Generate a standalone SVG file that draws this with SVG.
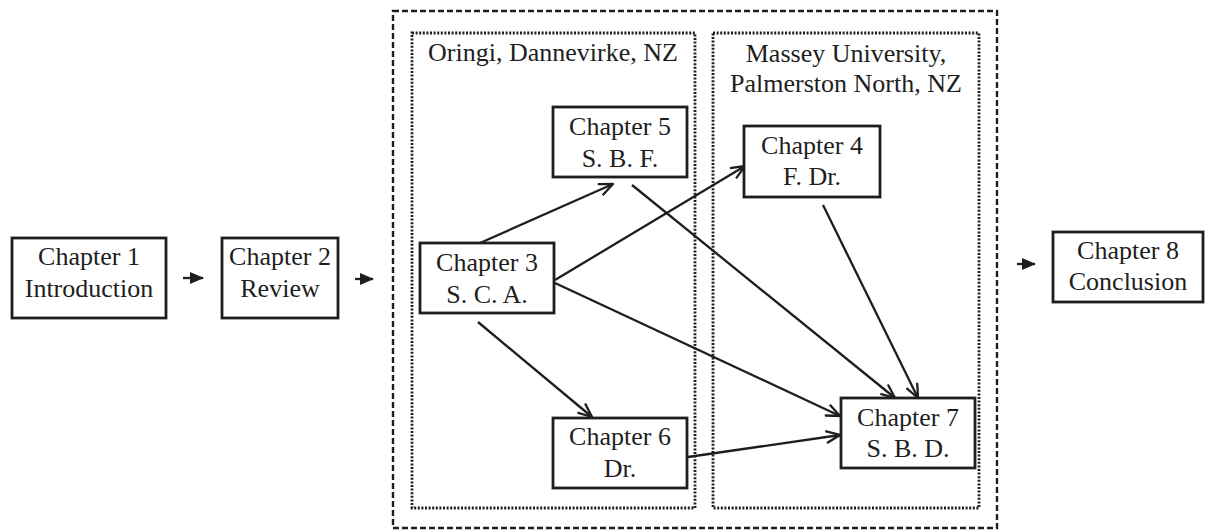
<svg xmlns="http://www.w3.org/2000/svg" width="1209" height="531" viewBox="0 0 1209 531">
<style>
text{font-family:"Liberation Serif","Times New Roman",serif;font-size:26px;fill:#1e1e1e;text-anchor:middle}
.box{fill:#fff;stroke:#1e1e1e;stroke-width:2.8}
.conn{stroke:#1e1e1e;stroke-width:2.3;fill:none}
.outer{fill:none;stroke:#1e1e1e;stroke-width:2.4;stroke-dasharray:6 3}
.dot{fill:none;stroke:#1e1e1e;stroke-width:2.8;stroke-dasharray:2 1.6}
</style>
<defs>
<marker id="open" viewBox="0 0 16 14" refX="15" refY="7" markerWidth="16" markerHeight="14" markerUnits="userSpaceOnUse" orient="auto">
<path d="M1,1 L15,7 L1,13" fill="none" stroke="#1e1e1e" stroke-width="2.3"/>
</marker>
<marker id="solid" viewBox="0 0 14 12" refX="13" refY="6" markerWidth="14" markerHeight="12" markerUnits="userSpaceOnUse" orient="auto">
<path d="M0,0 L14,6 L0,12 Z" fill="#1e1e1e"/>
</marker>
</defs>
<rect width="1209" height="531" fill="#fff"/>
<g id="regions">
<rect class="outer" x="393" y="11" width="604" height="517"/>
<rect class="dot" x="412" y="33" width="283" height="475"/>
<rect class="dot" x="713" y="33" width="266" height="475"/>
<text x="553" y="61" font-size="26.5">Oringi, Dannevirke, NZ</text>
<text x="846" y="62" font-size="26.5">Massey University,</text>
<text x="846" y="92" font-size="26.5">Palmerston North, NZ</text>
</g>
<g id="connectors">
<line class="conn" x1="183" y1="278" x2="203" y2="278" marker-end="url(#solid)"/>
<line class="conn" x1="355" y1="279" x2="373" y2="279" marker-end="url(#solid)"/>
<line class="conn" x1="1017" y1="264" x2="1035" y2="264" marker-end="url(#solid)"/>
<line class="conn" x1="480" y1="243" x2="613" y2="184" marker-end="url(#open)"/>
<line class="conn" x1="555" y1="280" x2="745" y2="166" marker-end="url(#open)"/>
<line class="conn" x1="555" y1="283" x2="840" y2="416" marker-end="url(#open)"/>
<line class="conn" x1="632" y1="185" x2="895" y2="398" marker-end="url(#open)"/>
<line class="conn" x1="823" y1="205" x2="918" y2="398" marker-end="url(#open)"/>
<line class="conn" x1="478" y1="322" x2="592" y2="417" marker-end="url(#open)"/>
<line class="conn" x1="688" y1="457" x2="840" y2="435" marker-end="url(#open)"/>
</g>
<g id="ch1"><rect class="box" x="12" y="238" width="154" height="80"/><text x="89" y="265">Chapter 1</text><text x="89" y="297">Introduction</text></g>
<g id="ch2"><rect class="box" x="222" y="238" width="116" height="80"/><text x="280" y="265">Chapter 2</text><text x="280" y="297">Review</text></g>
<g id="ch3"><rect class="box" x="420" y="243" width="134" height="70"/><text x="487" y="271">Chapter 3</text><text x="487" y="303">S. C. A.</text></g>
<g id="ch5"><rect class="box" x="553" y="107" width="134" height="70"/><text x="620" y="135">Chapter 5</text><text x="620" y="167">S. B. F.</text></g>
<g id="ch4"><rect class="box" x="744" y="126" width="136" height="71"/><text x="812" y="154">Chapter 4</text><text x="812" y="185">F. Dr.</text></g>
<g id="ch6"><rect class="box" x="553" y="418" width="134" height="70"/><text x="620" y="445">Chapter 6</text><text x="620" y="477">Dr.</text></g>
<g id="ch7"><rect class="box" x="841" y="398" width="134" height="70"/><text x="908" y="426">Chapter 7</text><text x="908" y="457">S. B. D.</text></g>
<g id="ch8"><rect class="box" x="1053" y="232" width="150" height="70"/><text x="1128" y="259">Chapter 8</text><text x="1128" y="290">Conclusion</text></g>
</svg>
